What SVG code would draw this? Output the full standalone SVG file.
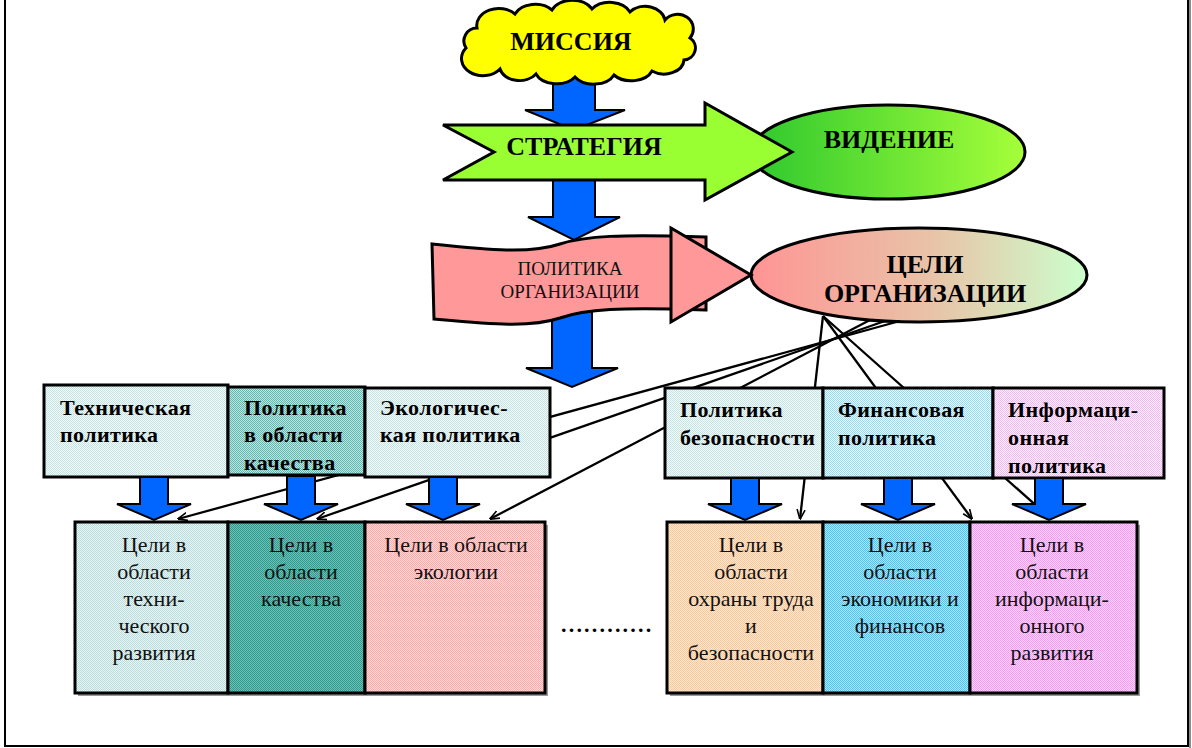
<svg xmlns="http://www.w3.org/2000/svg" width="1192" height="748" viewBox="0 0 1192 748">
<style>
.ol{stroke:#000;stroke-width:3;stroke-linejoin:miter}
.blue{fill:#0066ff;stroke:#000;stroke-width:2;stroke-linejoin:miter}
.box{stroke:#000;stroke-width:3}
.sh{fill:#9a9a9a}
.tb{font-family:"Liberation Serif","Times New Roman",serif;font-weight:bold;font-size:22px;letter-spacing:0.4px;fill:#000}
.tr{font-family:"Liberation Serif","Times New Roman",serif;font-size:22px;fill:#111;text-anchor:middle}
.big{font-family:"Liberation Serif","Times New Roman",serif;font-weight:bold;font-size:26px;fill:#000;text-anchor:middle}
.pol{font-family:"Liberation Serif","Times New Roman",serif;font-size:19px;fill:#111;text-anchor:middle}
.con{stroke:#000;stroke-width:2.3;fill:none;marker-end:url(#ah)}
</style>
<defs>
<marker id="ah" viewBox="0 0 10 10" refX="9.5" refY="5" markerWidth="10" markerHeight="10" markerUnits="userSpaceOnUse" orient="auto"><path d="M0,1 L10,5 L0,9" fill="none" stroke="#000" stroke-width="1.6"/></marker>
<linearGradient id="gVis" x1="0" y1="0" x2="1" y2="0"><stop offset="0" stop-color="#2ec82e"/><stop offset="1" stop-color="#a6ff3a"/></linearGradient>
<linearGradient id="gGoal" x1="0" y1="0" x2="1" y2="0"><stop offset="0" stop-color="#ff9494"/><stop offset="0.55" stop-color="#e8c4a8"/><stop offset="1" stop-color="#ccffcc"/></linearGradient>
<pattern id="pLight" width="2" height="2" patternUnits="userSpaceOnUse"><rect width="2" height="2" fill="#f4fbfb"/><rect width="1" height="1" fill="#c4e2e2"/><rect x="1" y="1" width="1" height="1" fill="#c4e2e2"/></pattern>
<pattern id="pQualT" width="2" height="2" patternUnits="userSpaceOnUse"><rect width="2" height="2" fill="#bfe6e2"/><rect width="1" height="1" fill="#5cb9b0"/><rect x="1" y="1" width="1" height="1" fill="#5cb9b0"/></pattern>
<pattern id="pFinT" width="2" height="2" patternUnits="userSpaceOnUse"><rect width="2" height="2" fill="#f2fcff"/><rect width="1" height="1" fill="#8edcf5"/><rect x="1" y="1" width="1" height="1" fill="#8edcf5"/></pattern>
<pattern id="pInfT" width="2" height="2" patternUnits="userSpaceOnUse"><rect width="2" height="2" fill="#fff6ff"/><rect width="1" height="1" fill="#f4b6f4"/><rect x="1" y="1" width="1" height="1" fill="#f4b6f4"/></pattern>
<pattern id="pTechB" width="2" height="2" patternUnits="userSpaceOnUse"><rect width="2" height="2" fill="#eaf6f6"/><rect width="1" height="1" fill="#b8dcdc"/><rect x="1" y="1" width="1" height="1" fill="#b8dcdc"/></pattern>
<pattern id="pQualB" width="2" height="2" patternUnits="userSpaceOnUse"><rect width="2" height="2" fill="#6cc2b8"/><rect width="1" height="1" fill="#2f9a8c"/><rect x="1" y="1" width="1" height="1" fill="#2f9a8c"/></pattern>
<pattern id="pEcoB" width="2" height="2" patternUnits="userSpaceOnUse"><rect width="2" height="2" fill="#ffdcdc"/><rect width="1" height="1" fill="#ffa9a9"/><rect x="1" y="1" width="1" height="1" fill="#ffa9a9"/></pattern>
<pattern id="pOhrB" width="2" height="2" patternUnits="userSpaceOnUse"><rect width="2" height="2" fill="#ffe8d0"/><rect width="1" height="1" fill="#f7c89c"/><rect x="1" y="1" width="1" height="1" fill="#f7c89c"/></pattern>
<pattern id="pEconB" width="2" height="2" patternUnits="userSpaceOnUse"><rect width="2" height="2" fill="#a9e8ff"/><rect width="1" height="1" fill="#4cc4ee"/><rect x="1" y="1" width="1" height="1" fill="#4cc4ee"/></pattern>
<pattern id="pInfB" width="2" height="2" patternUnits="userSpaceOnUse"><rect width="2" height="2" fill="#ffd4ff"/><rect width="1" height="1" fill="#f29cf2"/><rect x="1" y="1" width="1" height="1" fill="#f29cf2"/></pattern>
</defs>

<rect width="1192" height="748" fill="#fff"/>
<g id="frame">
<line x1="1190" y1="0" x2="1190" y2="748" stroke="#8a8a8a" stroke-width="2"/>
<rect x="5" y="-10" width="1183" height="756" fill="none" stroke="#000" stroke-width="2"/>
</g>

<g id="main-flow-arrows">
<path class="blue" d="M553,77 L595,77 L595,110 L625,110 L574,130 L525,110 L553,110 Z"/>
<path class="blue" d="M553,178 L595,178 L595,217 L620,217 L574,240 L528,217 L553,217 Z"/>
<path class="blue" d="M552,312 L592,312 L592,368 L618,368 L572,387 L526,368 L552,368 Z"/>
</g>

<g id="mission">
<path class="ol" fill="#ffff00" d="M466,48 A13 13 0 0 1 477,28 A22 17 0 0 1 515,14 A22 16 0 0 1 552,10 A22 16 0 0 1 592,9 A22 16 0 0 1 630,12 A20 16 0 0 1 665,20 A15 14 0 0 1 690,38 A12 12 0 0 1 684,60 A20 15 0 0 1 652,71 A22 15 0 0 1 614,75 A22 15 0 0 1 575,77 A22 15 0 0 1 536,74 A20 15 0 0 1 500,69 A15 12 0 0 1 466,48 Z"/>
<text class="big" x="571" y="50">МИССИЯ</text>
</g>

<g id="vision">
<ellipse class="ol" cx="888" cy="152" rx="137" ry="47" fill="url(#gVis)"/>
<text class="big" x="889" y="148">ВИДЕНИЕ</text>
</g>

<g id="strategy">
<path class="ol" fill="#99ff33" d="M443,125 L705,125 L705,103 L792,152 L705,200 L705,180 L443,180 L494,152 Z"/>
<text class="big" x="584" y="155">СТРАТЕГИЯ</text>
</g>

<g id="goals">
<ellipse class="ol" cx="919" cy="275" rx="168" ry="47" fill="url(#gGoal)"/>
<text class="big" x="925" y="273">ЦЕЛИ</text>
<text class="big" x="925" y="302">ОРГАНИЗАЦИИ</text>
</g>

<g id="policy">
<path class="ol" fill="#ff9999" d="M432,244 C490,250 530,254 560,244 C585,236 620,234 706,237 L706,310 C620,307 585,309 560,318 C530,328 490,324 434,319 Z"/>
<path class="ol" fill="#ff9999" d="M671,228 L751,275 L671,322 Z"/>
<text class="pol" x="570" y="275">ПОЛИТИКА</text>
<text class="pol" x="570" y="298">ОРГАНИЗАЦИИ</text>
</g>

<g id="connectors">
<path class="con" d="M823,316 L800,519"/>
<path class="con" d="M823,316 L972,519"/>
<path class="con" d="M823,316 L1049,517"/>
<path class="con" d="M900,321 L178,519"/>
<path class="con" d="M885,321 L317,519"/>
<path class="con" d="M870,320 L490,519"/>
</g>

<g id="tech-policy">
<rect class="box" x="44" y="385" width="184" height="92" fill="url(#pLight)"/>
<text class="tb" x="60" y="415">Техническая</text>
<text class="tb" x="60" y="442">политика</text>
</g>
<g id="quality-policy">
<rect class="box" x="228" y="387" width="137" height="88" fill="url(#pQualT)"/>
<text class="tb" x="244" y="415">Политика</text>
<text class="tb" x="244" y="442">в области</text>
<text class="tb" x="244" y="470">качества</text>
</g>
<g id="eco-policy">
<rect class="box" x="365" y="388" width="185" height="89" fill="url(#pLight)"/>
<text class="tb" x="380" y="415">Экологичес-</text>
<text class="tb" x="380" y="442">кая политика</text>
</g>
<g id="safety-policy">
<rect class="box" x="665" y="388" width="158" height="90" fill="url(#pLight)"/>
<text class="tb" x="680" y="417">Политика</text>
<text class="tb" x="680" y="445">безопасности</text>
</g>
<g id="finance-policy">
<rect class="box" x="823" y="388" width="170" height="90" fill="url(#pFinT)"/>
<text class="tb" x="838" y="417">Финансовая</text>
<text class="tb" x="838" y="445">политика</text>
</g>
<g id="info-policy">
<rect class="box" x="993" y="388" width="171" height="90" fill="url(#pInfT)"/>
<text class="tb" x="1008" y="417">Информаци-</text>
<text class="tb" x="1008" y="445">онная</text>
<text class="tb" x="1008" y="473">политика</text>
</g>

<g id="tech-goals">
<rect class="sh" x="78" y="525" width="153" height="171"/>
<rect class="box" x="75" y="522" width="153" height="171" fill="url(#pTechB)"/>
<text class="tr" x="154" y="552">Цели в</text>
<text class="tr" x="154" y="579">области</text>
<text class="tr" x="154" y="606">техни-</text>
<text class="tr" x="154" y="633">ческого</text>
<text class="tr" x="154" y="660">развития</text>
</g>
<g id="quality-goals">
<rect class="sh" x="231" y="525" width="137" height="171"/>
<rect class="box" x="228" y="522" width="137" height="171" fill="url(#pQualB)"/>
<text class="tr" x="301" y="552">Цели в</text>
<text class="tr" x="301" y="579">области</text>
<text class="tr" x="301" y="606">качества</text>
</g>
<g id="eco-goals">
<rect class="sh" x="368" y="525" width="180" height="171"/>
<rect class="box" x="365" y="522" width="180" height="171" fill="url(#pEcoB)"/>
<text class="tr" x="456" y="552">Цели в области</text>
<text class="tr" x="456" y="579">экологии</text>
</g>
<g id="ellipsis">
<text class="tb" x="561" y="632" style="letter-spacing:2.2px">............</text>
</g>
<g id="safety-goals">
<rect class="sh" x="670" y="525" width="156" height="171"/>
<rect class="box" x="667" y="522" width="156" height="171" fill="url(#pOhrB)"/>
<text class="tr" x="751" y="552">Цели в</text>
<text class="tr" x="751" y="579">области</text>
<text class="tr" x="751" y="606">охраны труда</text>
<text class="tr" x="751" y="633">и</text>
<text class="tr" x="751" y="660">безопасности</text>
</g>
<g id="finance-goals">
<rect class="sh" x="826" y="525" width="147" height="171"/>
<rect class="box" x="823" y="522" width="147" height="171" fill="url(#pEconB)"/>
<text class="tr" x="900" y="552">Цели в</text>
<text class="tr" x="900" y="579">области</text>
<text class="tr" x="900" y="606">экономики и</text>
<text class="tr" x="900" y="633">финансов</text>
</g>
<g id="info-goals">
<rect class="sh" x="973" y="525" width="167" height="171"/>
<rect class="box" x="970" y="522" width="167" height="171" fill="url(#pInfB)"/>
<text class="tr" x="1052" y="552">Цели в</text>
<text class="tr" x="1052" y="579">области</text>
<text class="tr" x="1052" y="606">информаци-</text>
<text class="tr" x="1052" y="633">онного</text>
<text class="tr" x="1052" y="660">развития</text>
</g>

<g id="policy-goal-arrows">
<path class="blue" d="M140,477 L168,477 L168,504 L191,504 L154,520 L117,504 L140,504 Z"/>
<path class="blue" d="M287,476 L315,476 L315,504 L338,504 L301,520 L264,504 L287,504 Z"/>
<path class="blue" d="M429,477 L457,477 L457,504 L480,504 L443,520 L406,504 L429,504 Z"/>
<path class="blue" d="M731,478 L759,478 L759,504 L782,504 L745,520 L708,504 L731,504 Z"/>
<path class="blue" d="M884,478 L912,478 L912,504 L935,504 L898,520 L861,504 L884,504 Z"/>
<path class="blue" d="M1035,478 L1063,478 L1063,504 L1086,504 L1049,520 L1012,504 L1035,504 Z"/>
</g>
</svg>
